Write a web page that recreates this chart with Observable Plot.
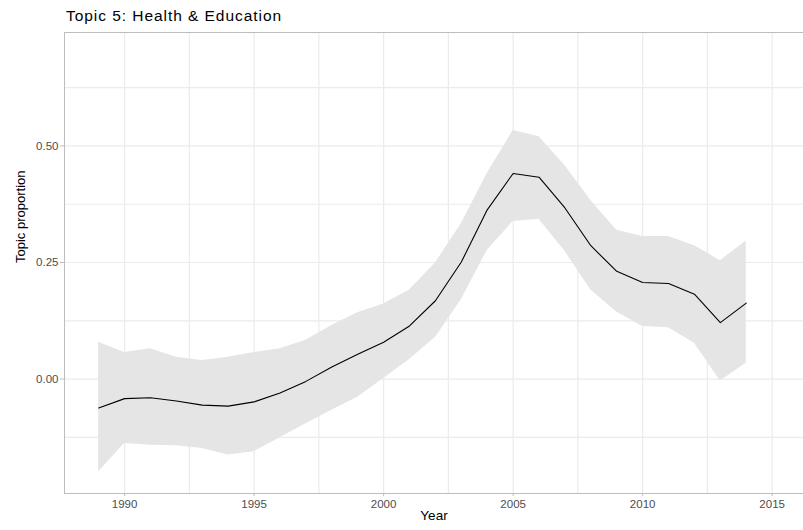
<!DOCTYPE html>
<html>
<head>
<meta charset="utf-8">
<script src="https://cdn.jsdelivr.net/npm/d3@7"></script>
<script src="https://cdn.jsdelivr.net/npm/@observablehq/plot@0.6"></script>
<style>
  html, body { margin: 0; padding: 0; background: #fff; }
  #title { font-family: "Liberation Sans", Arial, Helvetica, sans-serif; font-size: 15.5px; letter-spacing: 0.95px; line-height: 21px; padding: 5px 0 0 66px; height: 21px; color: #000; white-space: nowrap; }
  svg { display: block; }
</style>
</head>
<body>
<div id="title">Topic 5: Health &amp; Education</div>
<div id="chart"></div>
<script>
const years = [1989,1990,1991,1992,1993,1994,1995,1996,1997,1998,1999,2000,2001,2002,2003,2004,2005,2006,2007,2008,2009,2010,2011,2012,2013,2014];
const meanValues = [-0.062,-0.042,-0.040,-0.047,-0.056,-0.058,-0.049,-0.030,-0.005,0.026,0.053,0.079,0.114,0.168,0.251,0.363,0.441,0.433,0.367,0.286,0.231,0.207,0.205,0.182,0.121,0.163];
const upperValues = [0.079,0.057,0.065,0.047,0.040,0.047,0.057,0.065,0.083,0.115,0.142,0.161,0.191,0.249,0.333,0.441,0.533,0.520,0.458,0.383,0.319,0.306,0.306,0.286,0.254,0.296];
const lowerValues = [-0.199,-0.138,-0.142,-0.143,-0.149,-0.163,-0.156,-0.126,-0.096,-0.067,-0.039,0.001,0.042,0.089,0.170,0.276,0.338,0.343,0.274,0.191,0.144,0.113,0.110,0.077,-0.004,0.034];

const xTicks = [1990,1995,2000,2005,2010,2015];
const xTickLabels = ["1990","1995","2000","2005","2010","2015"];
const xGridValues = [1990,1992.5,1995,1997.5,2000,2002.5,2005,2007.5,2010,2012.5,2015];
const yTicks = [0, 0.25, 0.5];
const yTickLabels = ["0.00","0.25","0.50"];
const yGridValues = [-0.125,0,0.125,0.25,0.375,0.5,0.625];
const xDomain = [1987.68, 2016.21];
const yDomain = [-0.2455, 0.7434];
const xLabel = "Year";
const yLabel = "Topic proportion";

const data = years.map((yr, i) => ({year: yr, mean: meanValues[i], lower: lowerValues[i], upper: upperValues[i]}));

const font = '"Liberation Sans", Arial, Helvetica, sans-serif';
const gridStyle = {stroke: "#ebebeb", strokeOpacity: 1, strokeWidth: 1.2};
const axisLine = {stroke: "#bdbdbd", strokeWidth: 1};

const chart = Plot.plot({
  width: 803,
  height: 504,
  marginTop: 6,
  marginBottom: 37,
  marginLeft: 64,
  marginRight: 0,
  style: {fontFamily: font, fontSize: "11.5px", background: "#fff", overflow: "visible"},
  x: {domain: xDomain},
  y: {domain: yDomain},
  marks: [
    Plot.gridX(xGridValues, gridStyle),
    Plot.gridY(yGridValues, gridStyle),
    Plot.areaY(data, {x: "year", y1: "lower", y2: "upper", fill: "#e5e5e5", fillOpacity: 1}),
    Plot.lineY(data, {x: "year", y: "mean", stroke: "#000", strokeWidth: 1.1}),
    Plot.ruleX([xDomain[0]], axisLine),
    Plot.ruleY([yDomain[0]], axisLine),
    Plot.ruleY([yDomain[1]], axisLine),
    Plot.axisX({ticks: xTicks, tickFormat: d => xTickLabels[xTicks.indexOf(d)], tickSize: 3, tickPadding: 3, stroke: "#bdbdbd", fill: "#4d4d4d", label: null, fontSize: 11.5}),
    Plot.axisY({ticks: yTicks, tickFormat: d => yTickLabels[yTicks.indexOf(d)], tickSize: 4, tickPadding: 2, stroke: "#bdbdbd", fill: "#4d4d4d", label: null, fontSize: 11.5}),
    Plot.text([xLabel], {frameAnchor: "bottom", dy: 26.5, fill: "#000", fontSize: 13.5}),
    Plot.text([yLabel], {frameAnchor: "left", dx: -44, rotate: -90, fill: "#000", fontSize: 13})
  ]
});
document.getElementById("chart").appendChild(chart);
</script>
</body>
</html>
